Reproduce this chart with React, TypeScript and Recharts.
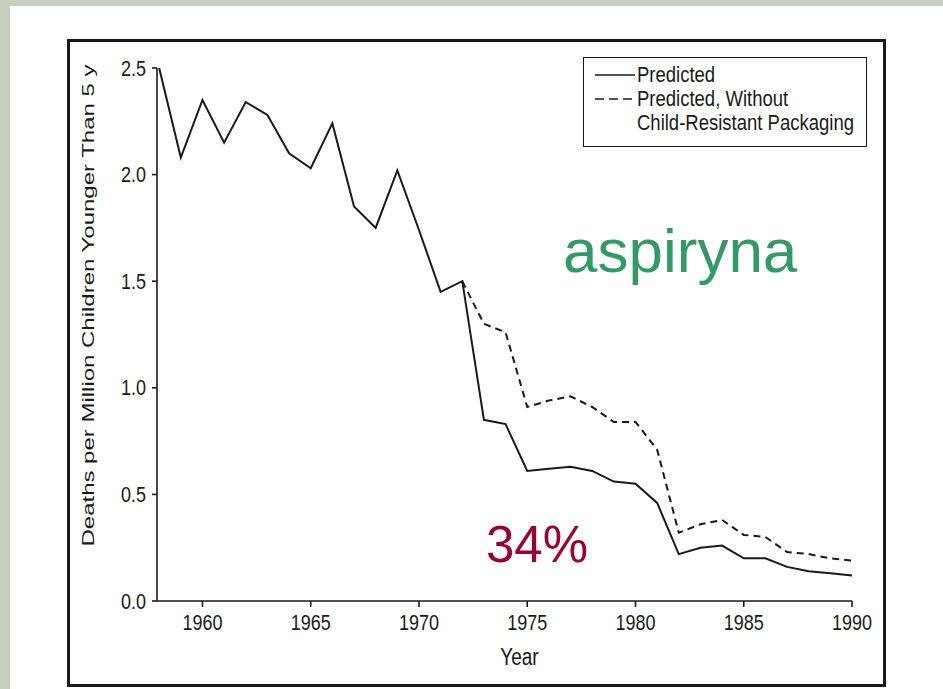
import { Legend, Line, LineChart, XAxis, YAxis } from "recharts";

// years 1958–1990
const years = [
  1958, 1959, 1960, 1961, 1962, 1963, 1964, 1965, 1966, 1967, 1968,
  1969, 1970, 1971, 1972, 1973, 1974, 1975, 1976, 1977, 1978, 1979,
  1980, 1981, 1982, 1983, 1984, 1985, 1986, 1987, 1988, 1989, 1990,
];

// deaths per million children < 5 y
const predicted = [
  2.5, 2.08, 2.35, 2.15, 2.34, 2.28, 2.1, 2.03, 2.24, 1.85, 1.75,
  2.02, 1.74, 1.45, 1.5, 0.85, 0.83, 0.61, 0.62, 0.63, 0.61, 0.56,
  0.55, 0.46, 0.22, 0.25, 0.26, 0.2, 0.2, 0.16, 0.14, 0.13, 0.12,
];

const withoutCRP = [
  null, null, null, null, null, null, null, null, null, null, null,
  null, null, null, 1.5, 1.3, 1.26, 0.91, 0.94, 0.96, 0.91, 0.84,
  0.84, 0.71, 0.32, 0.36, 0.38, 0.31, 0.3, 0.23, 0.22, 0.2, 0.19,
];

const xTicks = [1960, 1965, 1970, 1975, 1980, 1985, 1990];
const yTicks = [0, 0.5, 1, 1.5, 2, 2.5];

const seriesNames = ["Predicted", "Predicted, Without\nChild-Resistant Packaging"];
const yTitle = "Deaths per Million Children Younger Than 5 y";
const xTitle = "Year";

const data = years.map((year, i) => ({
  year,
  predicted: predicted[i],
  withoutCRP: withoutCRP[i],
}));

const FONT = "'Liberation Sans', Arial, sans-serif";
const INK = "#1a1a1a";

function XTick({ x, y, payload }: any) {
  return (
    <text
      transform={`translate(${x},${y}) scale(1,1.2)`}
      textAnchor="middle"
      dy="0.71em"
      fontSize={18}
      fontFamily={FONT}
      fill={INK}
    >
      {payload.value}
    </text>
  );
}

function YTick({ x, y, payload }: any) {
  return (
    <text
      transform={`translate(${x},${y}) scale(1,1.2)`}
      textAnchor="end"
      dy="0.355em"
      fontSize={18}
      fontFamily={FONT}
      fill={INK}
    >
      {Number(payload.value).toFixed(1)}
    </text>
  );
}

function XTitle(props: any) {
  const vb = props.viewBox ?? { x: 157, y: 601, width: 695, height: 30 };
  return (
    <text
      transform={`translate(${vb.x + vb.width / 2 + 15},${vb.y + 64}) scale(1,1.25)`}
      textAnchor="middle"
      fontSize={19}
      fontFamily={FONT}
      fill={INK}
    >
      {xTitle}
    </text>
  );
}

function YTitle(props: any) {
  const vb = props.viewBox ?? { x: 97, y: 68, width: 60, height: 533 };
  // title sits a little above the axis middle in the original
  return (
    <text
      transform={`translate(94,${vb.y + vb.height / 2 - 29}) rotate(-90) scale(1.5,1)`}
      textAnchor="middle"
      fontSize={16}
      fontFamily={FONT}
      fill={INK}
    >
      {yTitle}
    </text>
  );
}

function LegendBox({ payload }: any) {
  return (
    <div
      style={{
        boxSizing: "border-box",
        width: 284,
        height: 90,
        border: `1.5px solid ${INK}`,
        background: "#fff",
        padding: "4.5px 0 0 11px",
        fontFamily: FONT,
        fontSize: 18.5,
        color: INK,
      }}
    >
      {(payload ?? []).map((entry: any) => {
        const dashed = entry.dataKey === "withoutCRP";
        const lines = String(entry.value).split("\n");
        return (
          <div key={entry.dataKey} style={{ display: "flex", alignItems: "flex-start" }}>
            <svg width={42} height={24} style={{ flex: "none" }}>
              <line
                x1={0}
                x2={40}
                y1={12}
                y2={12}
                stroke={INK}
                strokeWidth={1.6}
                strokeDasharray={dashed ? "9 5" : undefined}
              />
            </svg>
            <div>
              {lines.map((t) => (
                <div
                  key={t}
                  style={{
                    height: 24,
                    lineHeight: "24px",
                    whiteSpace: "nowrap",
                    transform: "scaleY(1.15)",
                  }}
                >
                  {t}
                </div>
              ))}
            </div>
          </div>
        );
      })}
    </div>
  );
}

export default function App() {
  return (
    <div
      style={{
        position: "absolute",
        left: 0,
        top: 0,
        width: 943,
        height: 689,
        background: "#c5d0bf",
        overflow: "hidden",
      }}
    >
      <div style={{ position: "absolute", left: 10, top: 6, right: 0, bottom: 0, background: "#fff" }} />
      <div
        style={{
          position: "absolute",
          left: 67,
          top: 39,
          width: 819,
          height: 648,
          boxSizing: "border-box",
          border: `3px solid ${INK}`,
        }}
      />
      <div style={{ position: "absolute", left: 0, top: 0 }}>
        <LineChart
          width={943}
          height={689}
          data={data}
          margin={{ top: 68, right: 91, bottom: 58, left: 97 }}
        >
          <XAxis
            dataKey="year"
            type="number"
            domain={[1957.9, 1990]}
            ticks={xTicks}
            tick={<XTick />}
            tickSize={6}
            tickMargin={8}
            height={30}
            axisLine={{ stroke: INK, strokeWidth: 1.6 }}
            tickLine={{ stroke: INK, strokeWidth: 1.6 }}
            label={<XTitle />}
          />
          <YAxis
            type="number"
            domain={[0, 2.5]}
            ticks={yTicks}
            tick={<YTick />}
            tickSize={5}
            tickMargin={6}
            width={60}
            axisLine={{ stroke: INK, strokeWidth: 1.6 }}
            tickLine={{ stroke: INK, strokeWidth: 1.6 }}
            label={<YTitle />}
          />
          <Line
            type="linear"
            dataKey="predicted"
            name={seriesNames[0]}
            stroke={INK}
            strokeWidth={2}
            dot={false}
            isAnimationActive={false}
          />
          <Line
            type="linear"
            dataKey="withoutCRP"
            name={seriesNames[1]}
            stroke={INK}
            strokeWidth={2}
            strokeDasharray="7 5"
            dot={false}
            isAnimationActive={false}
          />
          <Legend
            layout="vertical"
            align="center"
            verticalAlign="middle"
            wrapperStyle={{ left: 583, top: 57, width: 284, height: 90 }}
            content={<LegendBox />}
          />
        </LineChart>
      </div>
      <svg
        width={943}
        height={689}
        style={{ position: "absolute", left: 0, top: 0, pointerEvents: "none" }}
      >
        <text x={563} y={272} fontSize={62} fontFamily={FONT} fill="#339966">
          aspiryna
        </text>
        <text x={486} y={562} fontSize={51} fontFamily={FONT} fill="#990033">
          34%
        </text>
      </svg>
    </div>
  );
}
